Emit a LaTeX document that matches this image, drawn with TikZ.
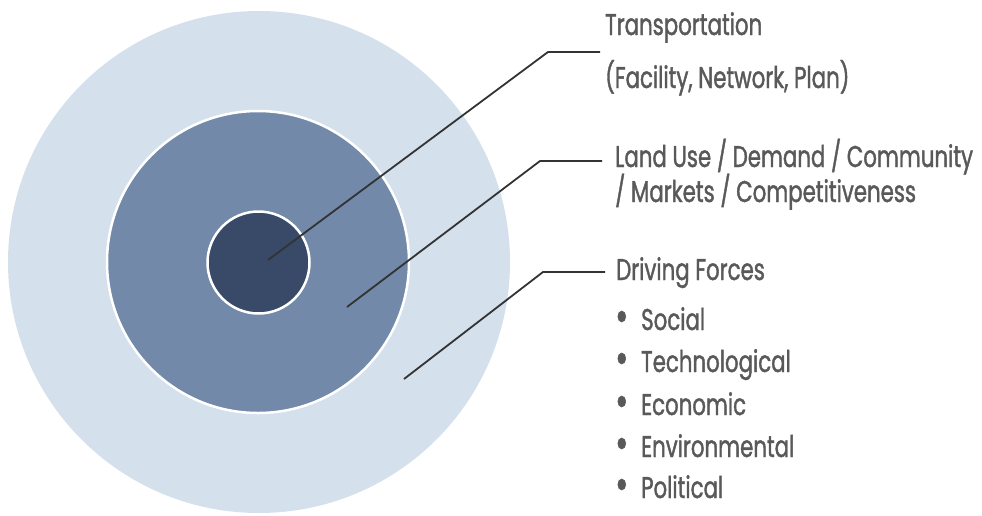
\documentclass[tikz,border=0pt]{standalone}
\usepackage{fontspec}
\setmainfont{Poppins}[FakeStretch=0.71, FakeBold=1.3]
\definecolor{outerc}{HTML}{D5E0ED}
\definecolor{midc}{HTML}{7289A9}
\definecolor{innerc}{HTML}{394A69}
\definecolor{textc}{HTML}{595959}
\definecolor{linec}{HTML}{333333}
\tikzset{
  ring/.style={circle, inner sep=0pt, outer sep=0pt},
  lbl/.style={anchor=base west, inner sep=0pt, text=textc, font=\fontsize{30}{36}\selectfont},
  conn/.style={draw=linec, line width=1.8pt},
}
\newcommand{\bul}[1]{\makebox[26pt][l]{\raisebox{-1.5pt}{\scalebox{1.5}{•}}}#1}
\begin{document}
\begin{tikzpicture}[x=1pt,y=-1pt]
\useasboundingbox (0,0) rectangle (982,515);
\node[ring, fill=outerc, minimum size=502pt] (outer) at (259,262) {};
\node[ring, fill=midc, draw=white, line width=2.5pt, minimum size=302pt] (mid) at (258,262) {};
\node[ring, fill=innerc, draw=white, line width=2.5pt, minimum size=102pt] (inner) at (258.5,262.5) {};

\node[lbl] (t1) at (605,35) {Transportation};
\node[lbl] (t1b) at (605,88) {(Facility, Network, Plan)};
\node[lbl] (t2) at (615,167) {Land Use / Demand / Community};
\node[lbl] (t2b) at (615,202) {/ Markets / Competitiveness};
\node[lbl] (t3) at (616,280) {Driving Forces};
\node[lbl] (b1) at (615,330) {\bul{Social}};
\node[lbl] (b2) at (615,372) {\bul{Technological}};
\node[lbl] (b3) at (615,415) {\bul{Economic}};
\node[lbl] (b4) at (615,457) {\bul{Environmental}};
\node[lbl] (b5) at (615,498) {\bul{Political}};

\coordinate (s1) at (268,260);
\coordinate (k1) at (548,52);
\coordinate (e1) at (600,52);
\coordinate (s2) at (347,307);
\coordinate (k2) at (540,161);
\coordinate (e2) at (602,161);
\coordinate (s3) at (404,379);
\coordinate (k3) at (543,272);
\coordinate (e3) at (605,272);
\draw[conn] (s1) -- (k1) -- (e1);
\draw[conn] (s2) -- (k2) -- (e2);
\draw[conn] (s3) -- (k3) -- (e3);
\end{tikzpicture}
\end{document}
